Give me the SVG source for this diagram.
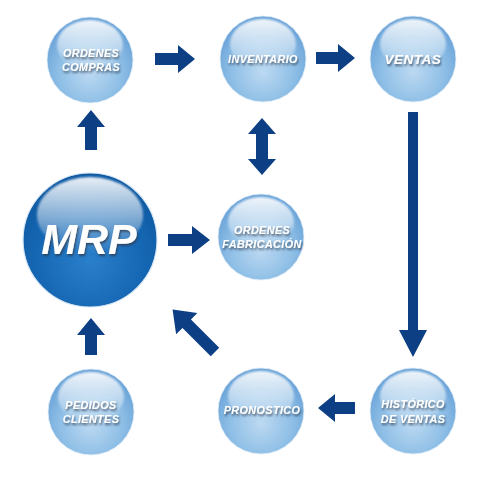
<svg xmlns="http://www.w3.org/2000/svg" width="486" height="480" viewBox="0 0 486 480">
<defs>
<radialGradient id="gSmall" cx="0.5" cy="0.65" r="0.6">
<stop offset="0" stop-color="#bcd9f2"/>
<stop offset="0.6" stop-color="#8fbfe6"/>
<stop offset="1" stop-color="#6aa3d8"/>
</radialGradient>
<radialGradient id="gBig" cx="0.5" cy="0.65" r="0.6">
<stop offset="0" stop-color="#2a7fcb"/>
<stop offset="0.7" stop-color="#1566b2"/>
<stop offset="1" stop-color="#0f5aa3"/>
</radialGradient>
<linearGradient id="gHi" x1="0" y1="0" x2="0" y2="1">
<stop offset="0" stop-color="#ffffff" stop-opacity="0.9"/>
<stop offset="0.55" stop-color="#ffffff" stop-opacity="0.45"/>
<stop offset="1" stop-color="#ffffff" stop-opacity="0"/>
</linearGradient>
<filter id="sh" x="-20%" y="-40%" width="140%" height="180%">
<feGaussianBlur in="SourceAlpha" stdDeviation="1.2"/>
<feOffset dx="1" dy="1.5" result="b"/>
<feFlood flood-color="#2a3a50" flood-opacity="0.8"/>
<feComposite in2="b" operator="in" result="s"/>
<feMerge><feMergeNode in="s"/><feMergeNode in="SourceGraphic"/></feMerge>
</filter>
<filter id="soft" x="-10%" y="-10%" width="120%" height="120%">
<feGaussianBlur stdDeviation="1"/>
</filter>
</defs>
<style>
.c{fill:url(#gSmall);stroke:#e2eef8;stroke-width:0.8}
.cb{fill:url(#gBig);stroke:#d5e6f4;stroke-width:1.2}
.hi{fill:url(#gHi);filter:url(#soft)}
.t{font-family:"Liberation Sans",Arial,sans-serif;font-weight:bold;font-style:italic;fill:#ffffff;text-anchor:middle;filter:url(#sh)}
.s{font-size:10.8px;letter-spacing:0.4px}
.a{fill:#0d3f84}
</style>
<g id="connectors">
<polygon class="a" points="155,53 178,53 178,45 195,59 178,73 178,65 155,65"/>
<polygon class="a" points="316,52 338,52 338,44 355,58 338,72 338,64 316,64"/>
<polygon class="a" points="168,234 192,234 192,226 210,240 192,254 192,246 168,246"/>
<polygon class="a" points="355,402 335,402 335,394 318,408 335,422 335,414 355,414"/>
<polygon class="a" points="85,150 85,127 77,127 91,110 105,127 97,127 97,150"/>
<polygon class="a" points="85,355 85,335 77,335 91,318 105,335 97,335 97,355"/>
<polygon class="a" points="408,112 418,112 418,330 427,330 413,357 399,330 408,330"/>
<polygon class="a" points="262,118 276,134 268,134 268,159 276,159 262,175 248,159 256,159 256,134 248,134"/>
<polygon class="a" transform="translate(215,352) rotate(-135)" points="0,-6 40,-6 40,-15 60,0 40,15 40,6 0,6"/>
</g>
<g id="ordenes-compras">
<circle class="c" cx="90" cy="60" r="43"/>
<ellipse class="hi" cx="90" cy="45" rx="33" ry="25"/>
<text class="t s" x="91" y="57">ORDENES</text>
<text class="t s" x="91" y="71">COMPRAS</text>
</g>
<g id="inventario">
<circle class="c" cx="263" cy="59" r="43"/>
<ellipse class="hi" cx="263" cy="44" rx="33" ry="25"/>
<text class="t s" x="263" y="63">INVENTARIO</text>
</g>
<g id="ventas">
<circle class="c" cx="413" cy="59" r="43"/>
<ellipse class="hi" cx="413" cy="44" rx="33" ry="25"/>
<text class="t" x="413" y="64" font-size="13.5" letter-spacing="0.5">VENTAS</text>
</g>
<g id="mrp">
<circle class="cb" cx="90" cy="240" r="67"/>
<ellipse class="hi" cx="90" cy="215" rx="53" ry="38"/>
<text class="t" x="89" y="254" font-size="43">MRP</text>
</g>
<g id="ordenes-fabricacion">
<circle class="c" cx="261" cy="237" r="43"/>
<ellipse class="hi" cx="261" cy="222" rx="33" ry="25"/>
<text class="t s" x="262" y="234">ORDENES</text>
<text class="t s" x="262" y="248">FABRICACIÓN</text>
</g>
<g id="pedidos-clientes">
<circle class="c" cx="91" cy="412" r="43"/>
<ellipse class="hi" cx="91" cy="397" rx="33" ry="25"/>
<text class="t s" x="91" y="409">PEDIDOS</text>
<text class="t s" x="91" y="423">CLIENTES</text>
</g>
<g id="pronostico">
<circle class="c" cx="261" cy="411" r="43"/>
<ellipse class="hi" cx="261" cy="396" rx="33" ry="25"/>
<text class="t s" x="262" y="414">PRONOSTICO</text>
</g>
<g id="historico-ventas">
<circle class="c" cx="413" cy="411" r="43"/>
<ellipse class="hi" cx="413" cy="396" rx="33" ry="25"/>
<text class="t s" x="413" y="408">HISTÓRICO</text>
<text class="t s" x="413" y="423">DE VENTAS</text>
</g>
</svg>
